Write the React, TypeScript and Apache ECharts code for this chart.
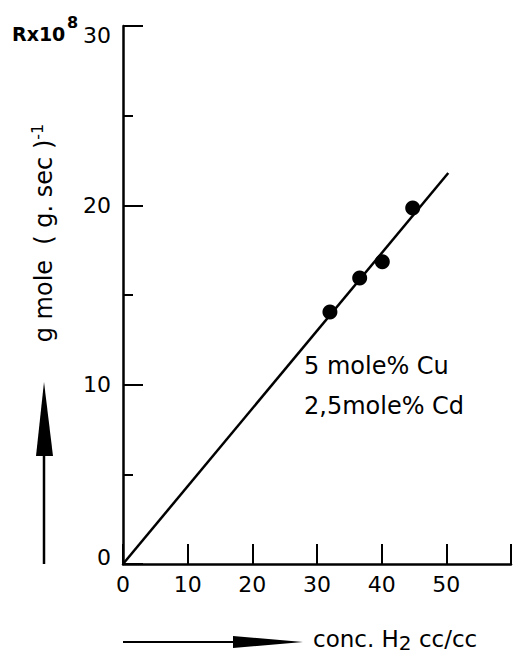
import React, { useEffect, useRef } from "react";
import * as echarts from "echarts";

// concentration of H2 (cc/cc)
const concH2 = [32.0, 36.6, 40.1, 44.8];
// rate R x 10^8, g mole (g.sec)^-1
const rate = [14.05, 15.95, 16.85, 19.85];
// fitted straight line through origin
const fitX = [0, 50.3];
const fitY = [0, 21.8];
const xTickValues = [0, 10, 20, 30, 40, 50];
const yTickValues = [0, 10, 20, 30];
const noteLines = ["5 mole% Cu", "2,5mole% Cd"];

const FONT = "DejaVu Sans";

export default function App() {
  const ref = useRef<HTMLDivElement>(null);
  useEffect(() => {
    if (!ref.current) return;
    const chart = echarts.init(ref.current, undefined, { renderer: "svg" });
    const points = concH2.map((x, i) => [x, rate[i]]);
    const line = fitX.map((x, i) => [x, fitY[i]]);
    chart.setOption({
      animation: false,
      backgroundColor: "#fff",
      grid: { left: 123, top: 26, bottom: 93, right: -3 },
      xAxis: {
        type: "value",
        min: 0,
        max: 60,
        interval: 10,
        axisLine: { lineStyle: { color: "#000", width: 2.5 } },
        axisTick: { inside: true, length: 20, lineStyle: { color: "#000", width: 2 } },
        splitLine: { show: false },
        axisLabel: {
          color: "#000",
          fontFamily: FONT,
          fontSize: 22,
          margin: 9,
          formatter: (v: number) => (xTickValues.includes(v) ? String(v) : ""),
        },
      },
      yAxis: {
        type: "value",
        min: 0,
        max: 30,
        interval: 10,
        axisLine: { lineStyle: { color: "#000", width: 2.5 } },
        axisTick: { inside: true, length: 20, lineStyle: { color: "#000", width: 2 } },
        minorTick: { show: true, splitNumber: 2, length: 10, lineStyle: { color: "#000", width: 2 } },
        splitLine: { show: false },
        minorSplitLine: { show: false },
        axisLabel: {
          color: "#000",
          fontFamily: FONT,
          fontSize: 22,
          margin: 12,
          formatter: (v: number) => {
            if (!yTickValues.includes(v)) return "";
            if (v === 30) return "{top|30}";
            if (v === 0) return "{zero|0}";
            return String(v);
          },
          rich: {
            top: { fontFamily: FONT, fontSize: 22, color: "#000", padding: [18, 0, 0, 0] },
            zero: { fontFamily: FONT, fontSize: 22, color: "#000", padding: [0, 0, 14, 0] },
          },
        },
      },
      series: [
        {
          type: "line",
          data: line,
          symbol: "none",
          lineStyle: { color: "#000", width: 2.5 },
          z: 2,
        },
        {
          type: "scatter",
          data: points,
          symbol: "circle",
          symbolSize: 15,
          itemStyle: { color: "#000", opacity: 1 },
          z: 3,
        },
      ],
      graphic: [
        // R x 10^8 label
        {
          type: "text",
          x: 12,
          y: 34,
          style: {
            text: "Rx10",
            fontFamily: FONT,
            fontSize: 19,
            fontWeight: "bold",
            fill: "#000",
            verticalAlign: "middle",
          },
        },
        {
          type: "text",
          x: 67,
          y: 22,
          style: {
            text: "8",
            fontFamily: FONT,
            fontSize: 16,
            fontWeight: "bold",
            fill: "#000",
            verticalAlign: "middle",
          },
        },
        // y axis name, rotated
        {
          type: "text",
          x: 44,
          y: 233,
          rotation: Math.PI / 2,
          style: {
            text: "{a|g mole  ( g. sec )}{b|-1}",
            align: "center",
            verticalAlign: "middle",
            rich: {
              a: { fontFamily: FONT, fontSize: 24, color: "#000", lineHeight: 30 },
              b: { fontFamily: FONT, fontSize: 16, color: "#000", lineHeight: 14, verticalAlign: "top" },
            },
          },
        },
        // vertical arrow
        { type: "line", shape: { x1: 44, y1: 455, x2: 44, y2: 564 }, style: { stroke: "#000", lineWidth: 2.5 } },
        { type: "polygon", shape: { points: [[36, 456], [53, 456], [44, 382]] }, style: { fill: "#000" } },
        // horizontal arrow
        { type: "line", shape: { x1: 123, y1: 642, x2: 234, y2: 642 }, style: { stroke: "#000", lineWidth: 2 } },
        { type: "polygon", shape: { points: [[233, 636], [233, 648], [303, 642]] }, style: { fill: "#000" } },
        // x axis name
        {
          type: "text",
          left: 313,
          top: 627,
          style: {
            text: "{a|conc. H}{s|2}{a| cc/cc}",
            rich: {
              a: { fontFamily: FONT, fontSize: 23, color: "#000", lineHeight: 28 },
              s: { fontFamily: FONT, fontSize: 20, color: "#000", lineHeight: 24, verticalAlign: "bottom" },
            },
          },
        },
        // annotation
        {
          type: "text",
          left: 304,
          top: 346,
          style: {
            text: noteLines.join("\n"),
            fontFamily: FONT,
            fontSize: 24,
            lineHeight: 40,
            fill: "#000",
          },
        },
      ],
    });
    return () => chart.dispose();
  }, []);
  return (
    <div
      ref={ref}
      style={{ position: "absolute", left: 0, top: 0, width: 514, height: 657, background: "#fff" }}
    />
  );
}
